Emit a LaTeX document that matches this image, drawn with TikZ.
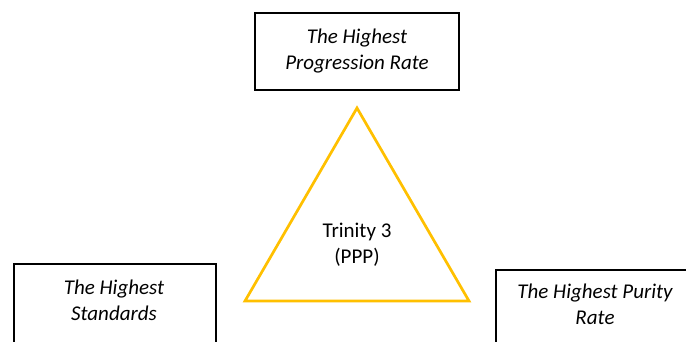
\documentclass[tikz,border=0pt]{standalone}
\usepackage{fontspec}
\setmainfont{Carlito}
\definecolor{gold}{HTML}{FFC000}
\begin{document}
\begin{tikzpicture}[x=1pt,y=-1pt,
  box/.style={draw=black,line width=1.6pt,inner sep=0pt,minimum width=#1,anchor=north west,minimum height=120pt},
  txt/.style={align=center,inner sep=0pt,font=\fontsize{21}{26}\selectfont\itshape},
  lbl/.style={align=center,inner sep=0pt,font=\fontsize{21}{26}\selectfont},
  tri/.style={draw=gold,line width=2.7pt,line join=miter}]
\useasboundingbox (0,0) rectangle (686,342);
\clip (0,0) rectangle (686,342);
\fill[white] (0,0) rectangle (686,342);
% top box
\node[draw=black,line width=1.6pt,inner sep=0pt,minimum width=204pt,minimum height=77pt] (tbox) at (357,51.5) {};
\node[txt] (ttxt) at (tbox.center) {The Highest\\Progression Rate};
% bottom left box
\node[box=202pt] (lbox) at (13,263) {};
\node[txt] (ltxt) at (114,300.5) {The Highest\\Standards};
% bottom right box
\node[box=200pt] (rbox) at (495,269) {};
\node[txt] (rtxt) at (595,304) {The Highest Purity\\Rate};
% triangle
\coordinate (apex) at (357,108);
\coordinate (bl) at (245,301);
\coordinate (br) at (469,301);
\draw[tri] (apex) -- (br) -- (bl) -- cycle;
\node[lbl] (core) at (357,244.5) {Trinity 3\\(PPP)};
\end{tikzpicture}
\end{document}
